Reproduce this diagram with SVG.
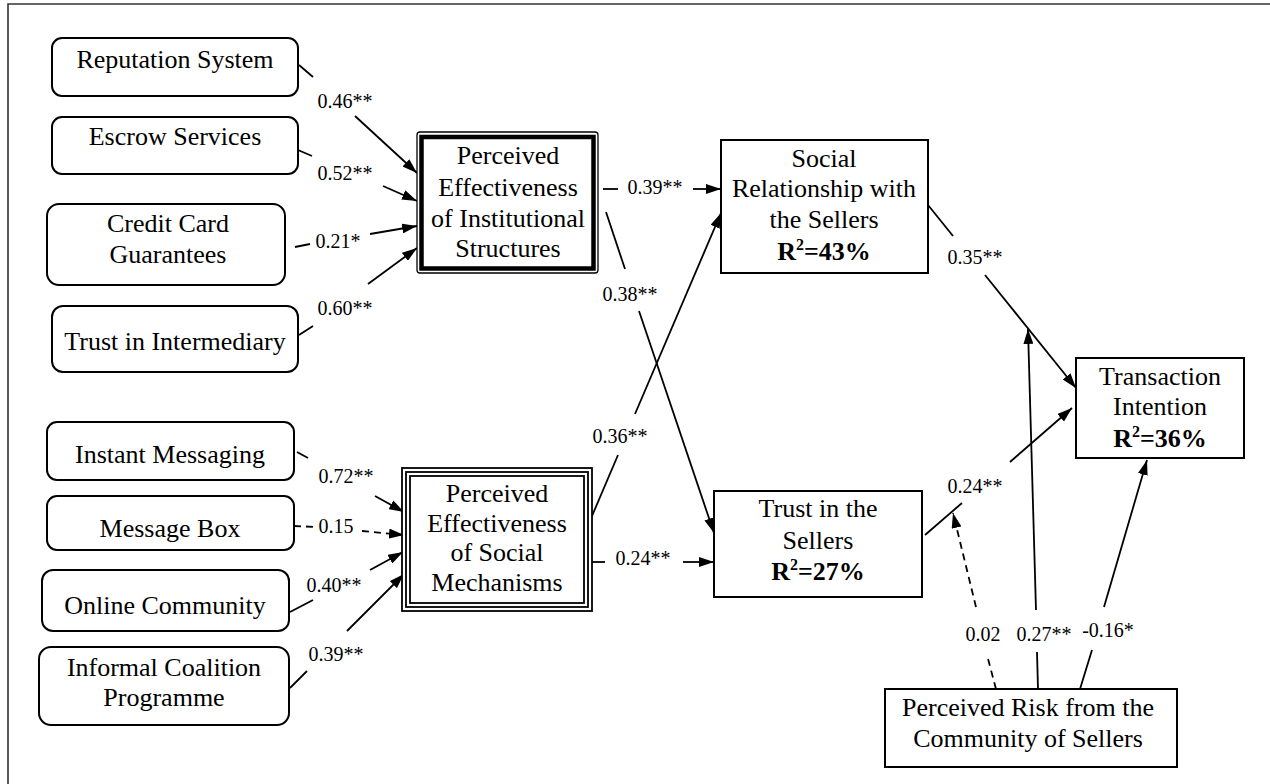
<svg xmlns="http://www.w3.org/2000/svg" width="1270" height="784" viewBox="0 0 1270 784" font-family="'Liberation Serif', 'DejaVu Serif', serif">
<defs>
<marker id="ah" markerUnits="userSpaceOnUse" markerWidth="16" markerHeight="10" refX="15" refY="5" orient="auto">
<path d="M0,0 L15,5 L0,10 z" fill="#000" stroke="none"/>
</marker>
<style>
text{font-family:'Liberation Serif','DejaVu Serif',serif;fill:#000}
.n{font-size:26px;text-anchor:middle}
.b{font-weight:bold}
.sup{font-size:16px}
.l{font-size:20px;text-anchor:middle}
.rb{fill:#fff;stroke:#000;stroke-width:2}
.box{fill:#fff;stroke:#000;stroke-width:2}
.c{stroke:#000;stroke-width:1.8;fill:none}
.d{stroke-dasharray:7 5}
.a{marker-end:url(#ah)}
</style>
</defs>
<rect width="1270" height="784" fill="#fff"/>
<path d="M8,784 V4 H1270" fill="none" stroke="#333" stroke-width="1.6"/>

<g id="connectors">
<path class="c" d="M299,65 L313,77"/><path class="c a" d="M355,116 L417,173"/>
<path class="c" d="M298,150 L312,156"/><path class="c a" d="M383,186 L417,201"/>
<path class="c" d="M295,247 L310,244"/><path class="c a" d="M370,234 L417,226"/>
<path class="c" d="M299,335 L313,326"/><path class="c a" d="M368,284 L417,248"/>
<path class="c" d="M297,452 L308,458"/><path class="c a" d="M375,496 L404,512"/>
<path class="c d" d="M294,526 L318,527"/><path class="c d a" d="M362,531 L404,535"/>
<path class="c" d="M290,612 L313,600"/><path class="c a" d="M370,570 L403,552"/>
<path class="c" d="M290,688 L307,671"/><path class="c a" d="M347,631 L404,574"/>
<path class="c" d="M603,189 L618,189"/><path class="c a" d="M693,189 L721,189"/>
<path class="c" d="M606,212 L625,269"/><path class="c a" d="M639,311 L714,533"/>
<path class="c" d="M589,523 L618,455"/><path class="c a" d="M635,414 L721,213"/>
<path class="c" d="M589,562 L605,562"/><path class="c a" d="M683,562 L714,562"/>
<path class="c" d="M928,205 L953,236"/><path class="c a" d="M985,275 L1076,388"/>
<path class="c" d="M925,535 L962,503"/><path class="c a" d="M1010,462 L1072,408"/>
<path class="c d" d="M996,689 L987,655"/><path class="c d a" d="M976,607 L953,513"/>
<path class="c" d="M1038,689 L1037,652"/><path class="c a" d="M1036,610 L1028,329"/>
<path class="c" d="M1080,689 L1092,650"/><path class="c a" d="M1104,607 L1147,460"/>
<text class="l" x="345" y="108">0.46**</text>
<text class="l" x="345" y="180">0.52**</text>
<text class="l" x="338" y="248">0.21*</text>
<text class="l" x="345" y="315">0.60**</text>
<text class="l" x="346" y="483">0.72**</text>
<text class="l" x="336" y="533">0.15</text>
<text class="l" x="334" y="592">0.40**</text>
<text class="l" x="336" y="661">0.39**</text>
<text class="l" x="655" y="194">0.39**</text>
<text class="l" x="630" y="301">0.38**</text>
<text class="l" x="620" y="443">0.36**</text>
<text class="l" x="643" y="565">0.24**</text>
<text class="l" x="975" y="264">0.35**</text>
<text class="l" x="975" y="493">0.24**</text>
<text class="l" x="983" y="641">0.02</text>
<text class="l" x="1044" y="641">0.27**</text>
<text class="l" x="1108" y="637">-0.16*</text>
</g>

<g id="reputation-system">
<rect class="rb" x="52" y="38" width="246" height="58" rx="10"/>
<text class="n" x="175" y="68">Reputation System</text>
</g>
<g id="escrow-services">
<rect class="rb" x="52" y="117" width="246" height="57" rx="10"/>
<text class="n" x="175" y="145">Escrow Services</text>
</g>
<g id="credit-card">
<rect class="rb" x="47" y="204" width="238" height="81" rx="12"/>
<text class="n" x="168" y="232">Credit Card</text>
<text class="n" x="168" y="263">Guarantees</text>
</g>
<g id="trust-intermediary">
<rect class="rb" x="52" y="306" width="246" height="66" rx="11"/>
<text class="n" x="175" y="350">Trust in Intermediary</text>
</g>
<g id="instant-messaging">
<rect class="rb" x="47" y="422" width="247" height="58" rx="10"/>
<text class="n" x="170" y="463">Instant Messaging</text>
</g>
<g id="message-box">
<rect class="rb" x="47" y="496" width="247" height="54" rx="10"/>
<text class="n" x="170" y="537">Message Box</text>
</g>
<g id="online-community">
<rect class="rb" x="42" y="570" width="247" height="61" rx="11"/>
<text class="n" x="165" y="614">Online Community</text>
</g>
<g id="informal-coalition">
<rect class="rb" x="39" y="647" width="250" height="78" rx="12"/>
<text class="n" x="164" y="676">Informal Coalition</text>
<text class="n" x="164" y="706">Programme</text>
</g>

<g id="peis">
<rect x="417" y="132" width="181" height="141" rx="3" fill="#fff" stroke="#000" stroke-width="1.3"/>
<rect x="421.5" y="137" width="172" height="131.5" fill="none" stroke="#000" stroke-width="4.5"/>
<text class="n" x="508" y="164">Perceived</text>
<text class="n" x="508" y="196">Effectiveness</text>
<text class="n" x="508" y="227">of Institutional</text>
<text class="n" x="508" y="257">Structures</text>
</g>

<g id="pesm">
<rect x="402" y="468" width="190" height="143" fill="#fff" stroke="#000" stroke-width="1.8"/>
<rect x="406" y="472" width="182" height="135" fill="none" stroke="#000" stroke-width="1.8"/>
<rect x="410" y="476" width="174" height="127" fill="none" stroke="#000" stroke-width="1.8"/>
<text class="n" x="497" y="502">Perceived</text>
<text class="n" x="497" y="532">Effectiveness</text>
<text class="n" x="497" y="561">of Social</text>
<text class="n" x="497" y="591">Mechanisms</text>
</g>

<g id="social-relationship">
<rect class="box" x="721" y="140" width="207" height="133"/>
<text class="n" x="824" y="167">Social</text>
<text class="n" x="824" y="197">Relationship with</text>
<text class="n" x="824" y="228">the Sellers</text>
<text class="n b" x="824" y="260">R<tspan class="sup" dy="-10">2</tspan><tspan dy="10">=43%</tspan></text>
</g>

<g id="trust-sellers">
<rect class="box" x="714" y="491" width="208" height="106"/>
<text class="n" x="818" y="517">Trust in the</text>
<text class="n" x="818" y="549">Sellers</text>
<text class="n b" x="818" y="580">R<tspan class="sup" dy="-10">2</tspan><tspan dy="10">=27%</tspan></text>
</g>

<g id="transaction-intention">
<rect class="box" x="1076" y="358" width="168" height="100"/>
<text class="n" x="1160" y="385">Transaction</text>
<text class="n" x="1160" y="415">Intention</text>
<text class="n b" x="1160" y="447">R<tspan class="sup" dy="-10">2</tspan><tspan dy="10">=36%</tspan></text>
</g>

<g id="perceived-risk">
<rect class="box" x="885" y="689" width="292" height="78"/>
<text class="n" x="1028" y="716">Perceived Risk from the</text>
<text class="n" x="1028" y="747">Community of Sellers</text>
</g>
</svg>
